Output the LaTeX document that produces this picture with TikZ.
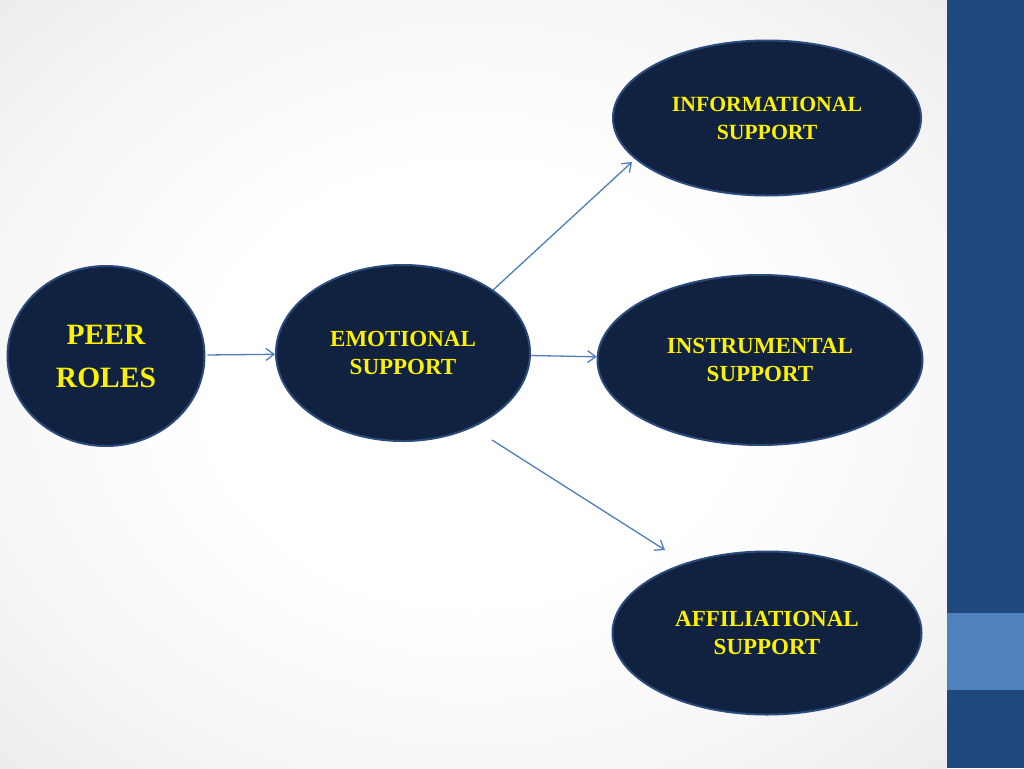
\documentclass[tikz,border=0pt]{standalone}
\usepackage{fontspec}
\setmainfont{Liberation Serif}
\usepackage{tikz}
\usetikzlibrary{arrows.meta, positioning, shapes.geometric}
\definecolor{navyfill}{HTML}{10223F}
\definecolor{navyline}{HTML}{2A4B7C}
\definecolor{barblue}{HTML}{1F497D}
\definecolor{barlight}{HTML}{4F81BD}
\definecolor{linkblue}{HTML}{4F7EB8}
\pgfdeclareradialshading{slideglow}{\pgfpoint{0bp}{0bp}}{color(0bp)=(white); color(14bp)=(white); color(25bp)=(gray!6); color(36bp)=(gray!15); color(50bp)=(gray!15)}
\begin{document}
\begin{tikzpicture}[x=1pt, y=-1pt,
  bubble/.style={ellipse, draw=navyline, line width=2pt, fill=navyfill, text=yellow, inner sep=0pt, align=center, font=\bfseries\fontsize{23}{28.5}\selectfont},
  link/.style={draw=linkblue, line width=1.3pt, -{Straight Barb[length=8pt, width=12pt]}}]
\useasboundingbox (0,0) rectangle (1024,768);
% Slide background and side bar
\shade[shading=slideglow] (0,0) rectangle (947,768);
\fill[barblue] (947,0) rectangle (1024,768);
\fill[barlight] (947,613) rectangle (1024,690);
% Bubbles
\node[bubble, minimum width=197pt, minimum height=180pt, font=\bfseries\fontsize{29.5}{43}\selectfont] (peer) at (106,356) {PEER\\ROLES};
\node[bubble, minimum width=254pt, minimum height=176pt] (emo) at (403,353) {EMOTIONAL\\SUPPORT};
\node[bubble, minimum width=308pt, minimum height=155pt, font=\bfseries\fontsize{21.7}{28}\selectfont] (info) at (767,118) {INFORMATIONAL\\SUPPORT};
\node[bubble, minimum width=325pt, minimum height=170pt] (instr) at (760,360) {INSTRUMENTAL\\SUPPORT};
\node[bubble, minimum width=309pt, minimum height=163pt] (affil) at (767,633) {AFFILIATIONAL\\SUPPORT};
% Free ends
\coordinate (infotip) at (632,162);
\coordinate (afftail) at (492,440);
\coordinate (afftip) at (665,550);
% Arrows
\draw[link, shorten <=2pt] (peer) -- (emo);
\draw[link] (emo) -- (instr);
\draw[link] (emo.35) -- (infotip);
\draw[link] (afftail) -- (afftip);
\end{tikzpicture}
\end{document}
